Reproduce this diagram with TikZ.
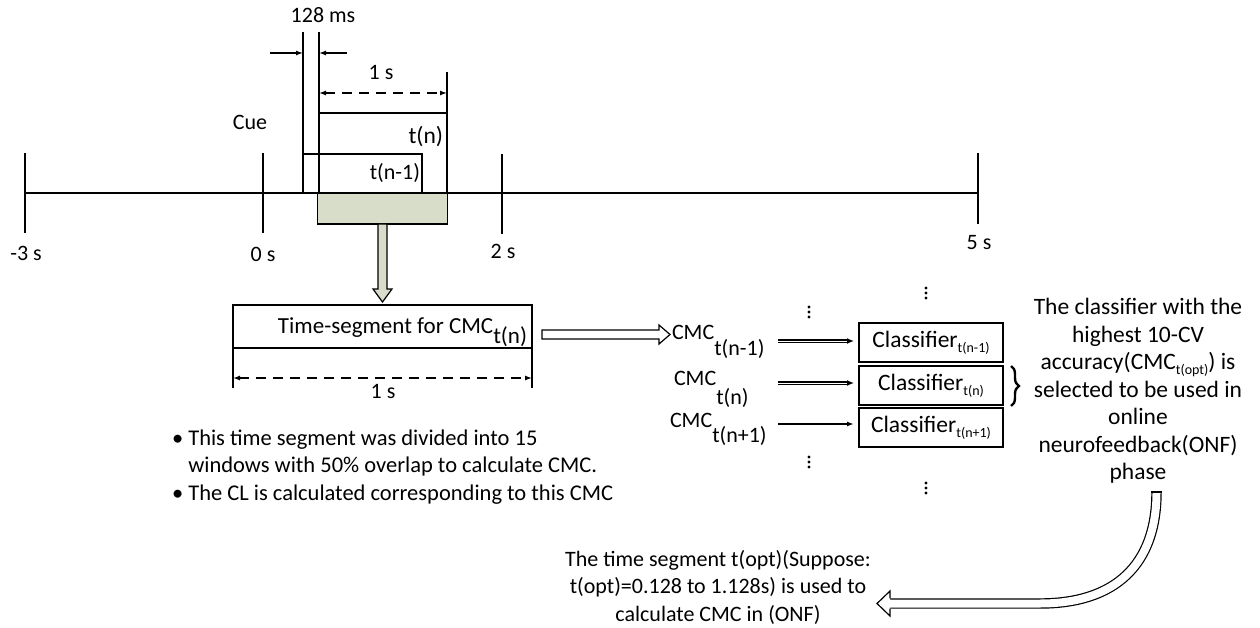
\documentclass[tikz,border=0pt]{standalone}
\usepackage{fontspec}
\setmainfont{Carlito}
\usetikzlibrary{arrows.meta,decorations.pathreplacing}
\definecolor{segfill}{RGB}{215,221,200}
\newcommand{\smsub}[1]{\raisebox{-0.22em}{\fontsize{14}{14}\selectfont #1}}
\begin{document}
\begin{tikzpicture}[x=1pt,y=-1pt,
  every node/.style={font=\fontsize{22}{27.5}\selectfont, inner sep=0pt, outer sep=0pt},
  big/.style={font=\fontsize{23.5}{27.5}\selectfont},
  ln/.style={line width=1.6pt},
  frame/.style={draw, line width=1.6pt, anchor=north west},
  dimarr/.style={line width=1.3pt, dash pattern=on 10pt off 7pt, {Latex[length=7pt,width=5pt]}-{Latex[length=7pt,width=5pt]}},
  tiparr/.style={line width=1.3pt, -{Latex[length=7pt,width=5pt]}},
  dblarr/.style={line width=1.6pt, double, double distance=0.8pt, -{Latex[length=7pt,width=6pt]}},
  sglarr/.style={line width=1.4pt, -{Latex[length=7pt,width=5pt]}},
  hollow/.style={line width=1.2pt, line join=miter},
]
\useasboundingbox (0,0) rectangle (1260,628);

% ---- timeline
\coordinate (tlA) at (25,193);
\coordinate (tlB) at (978,193);
\draw[ln] (tlA) -- (tlB);
\draw[ln] (25,153) -- (25,233);
\draw[ln] (263,153) -- (263,233);
\draw[ln] (502,154) -- (502,234);
\draw[ln] (978,153) -- (978,224);
\node (lm3) at (26,253) {-3 s};
\node (l0) at (263,254) {0 s};
\node (l2) at (503,251) {2 s};
\node (l5) at (979,243) {5 s};

% ---- green segment
\node[frame, line width=1.8pt, fill=segfill, minimum width=130pt, minimum height=31pt] (green) at (317.5,193) {};

% ---- windows
\draw[ln] (303,32) -- (303,193);
\draw[ln] (319,32) -- (319,113);
\node[frame, minimum width=128pt, minimum height=80pt] (tn) at (319,113) {};
\node[frame, line width=1.3pt, minimum width=119pt, minimum height=39pt] (tnm) at (303,154) {};
\node[anchor=east, big] (tnl) at (443,137) {t(n)};
\node[anchor=east] (tnml) at (420,173) {t(n-1)};

% ---- 1 s dimension (top)
\draw[ln] (447,72) -- (447,113);
\coordinate (dA) at (319,93);
\coordinate (dB) at (447,93);
\draw[dimarr] (dA) -- (dB);
\node (ones) at (381,73) {1 s};

% ---- 128 ms
\coordinate (mA) at (270,53);
\coordinate (mAe) at (303,53);
\coordinate (mB) at (347,53);
\coordinate (mBe) at (319,53);
\draw[tiparr] (mA) -- (mAe);
\draw[tiparr] (mB) -- (mBe);
\node (ms) at (323,15) {128 ms};
\node (cue) at (250,122) {Cue};

% ---- time segment box
\node[frame, minimum width=299pt, minimum height=43pt] (seg) at (233,305) {};
\node[anchor=base east, font=\fontsize{23}{27.5}\selectfont] (segtxt) at (527,333) {Time-segment for CMC\raisebox{-10pt}{t(n)}};

% down arrow green -> seg
\draw[line width=1.2pt, fill=segfill, line join=miter] (378,224) -- (387,224) -- (387,289) -- (392,289) -- (382.5,302) -- (373,289) -- (378,289) -- cycle;

% ---- lower 1 s dimension
\draw[ln] (233,348) -- (233,388);
\draw[ln] (532,348) -- (532,388);
\coordinate (eA) at (233,378);
\coordinate (eB) at (532,378);
\draw[dimarr] (eA) -- (eB);
\node (ones2) at (383,391) {1 s};

% ---- bullets
\node[anchor=base west, align=left, font=\fontsize{22.5}{27.5}\selectfont] (bul) at (172,500) {\textbullet\ This time segment was divided into 15\\\hphantom{\textbullet\ }windows with 50\% overlap to calculate CMC.\\\textbullet\ The CL is calculated corresponding to this CMC};

% ---- hollow arrow seg -> CMC
\draw[hollow] (542,330) -- (659,330) -- (659,325) -- (670,334.5) -- (659,344) -- (659,339) -- (542,339) -- cycle;

% ---- CMC labels
\node[anchor=base west] (c1) at (672,339) {CMC\raisebox{-16pt}{t(n-1)}};
\node[anchor=base west] (c2) at (674,385) {CMC\raisebox{-19pt}{t(n)}};
\node[anchor=base west] (c3) at (670,427) {CMC\raisebox{-15pt}{t(n+1)}};

% ---- classifiers
\node[frame, big, minimum width=144pt, minimum height=39pt] (k1) at (859,323) {Classifier\smsub{t(n-1)}};
\node[frame, big, minimum width=144pt, minimum height=39pt] (k2) at (859,366) {Classifier\smsub{t(n)}};
\node[frame, big, minimum width=144pt, minimum height=39pt] (k3) at (859,408) {Classifier\smsub{t(n+1)}};

\coordinate (a1) at (778,341);
\coordinate (a2) at (778,383);
\coordinate (a3) at (778,424);
\draw[dblarr, shorten >=5pt] (a1) -- (a1 -| k1.west);
\draw[dblarr, shorten >=5pt] (a2) -- (a2 -| k2.west);
\draw[sglarr, shorten >=5pt] (a3) -- (a3 -| k3.west);

% ---- vertical dots
\foreach \x/\y in {809/312, 809/462, 926/293, 926/488}{
  \foreach \d in {-5,0,5} \fill (\x,\y+\d) circle (1.6pt);
}

% ---- brace
\draw[line width=2.4pt, decorate, decoration={brace, amplitude=8pt}] (1011,366) -- (1011,406);

% ---- right text
\node[align=center, big] (sel) at (1138,391) {The classifier with the\\highest 10-CV\\accuracy(CMC\smsub{t(opt)}) is\\selected to be used in\\online\\neurofeedback(ONF)\\phase};

% ---- curved hollow arrow
\draw[line width=1.2pt, double=white, double distance=8pt] (1156.5,492) .. controls (1156.5,565) and (1115,603.5) .. (1040,603.5) -- (890,603.5);
\draw[line width=1.2pt] (1151.3,492) -- (1161.7,492);
\fill[white] (890,591) -- (877,603.5) -- (890,616) -- cycle;
\draw[hollow] (890,598.4) -- (890,591) -- (877,603.5) -- (890,616) -- (890,608.6);

% ---- bottom text
\node[align=center] (tsel) at (718,587) {The time segment t(opt)(Suppose:\\t(opt)=0.128 to 1.128s) is used to\\calculate CMC in (ONF)};
\end{tikzpicture}
\end{document}
